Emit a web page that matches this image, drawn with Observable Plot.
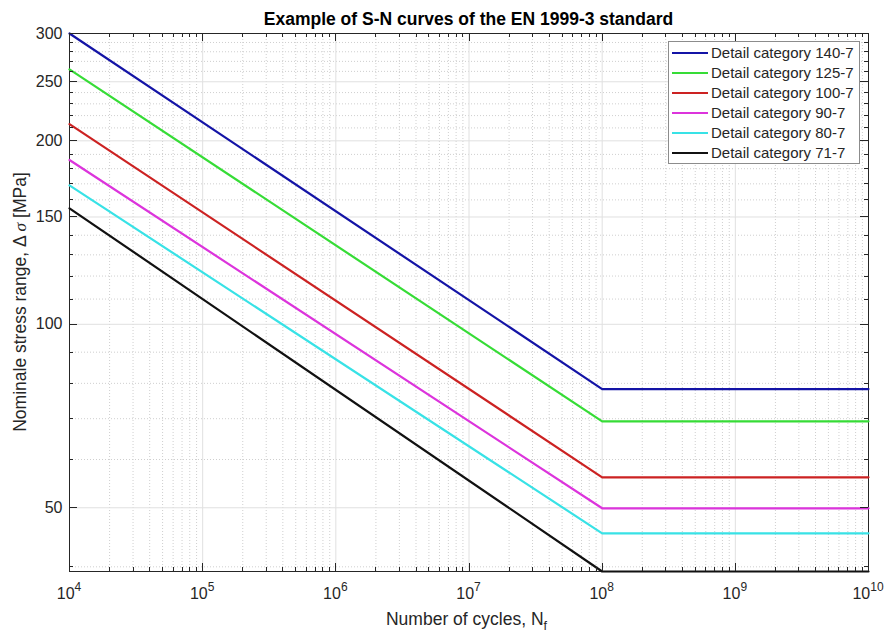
<!DOCTYPE html>
<html><head><meta charset="utf-8">
<script src="https://cdn.jsdelivr.net/npm/d3@7"></script>
<script src="https://cdn.jsdelivr.net/npm/@observablehq/plot@0.6"></script>
<style>
body{margin:0;background:#fff}
#chart{width:886px;height:632px}
</style>
</head><body><div id="chart"></div>
<script>
// ---- data ----
const categories = ["Detail category 140-7","Detail category 125-7","Detail category 100-7","Detail category 90-7","Detail category 80-7","Detail category 71-7"];
const colors = ["#1414a6","#36dc36","#cc2222","#dc34dc","#38e2e6","#111111"];
const cycles = [1e4, 1e8, 1e10];
const stress140 = [300, 78.3, 78.3];
const stress125 = [262, 69.3, 69.3];
const stress100 = [213, 56.1, 56.1];
const stress90  = [186, 49.9, 49.9];
const stress80  = [169, 45.4, 45.4];
const stress71  = [155, 39.3, 39.3];
const series = [stress140, stress125, stress100, stress90, stress80, stress71];
const xMajor = [1e4, 1e5, 1e6, 1e7, 1e8, 1e9, 1e10];
const yMajor = [50, 100, 150, 200, 250, 300];
const yMinorTicks = [40,60,70,80,90,110,120,130,140,160,170,180,190,210,220,230,240,260,270,280,290];
const xDomain = [1e4, 1e10];
const yDomain = [39.3, 300];

const rows = [];
series.forEach((s, i) => s.forEach((v, j) => rows.push({cat: categories[i], N: cycles[j], S: v})));
const xMinor = d3.scaleLog().domain(xDomain).ticks().filter(v => !xMajor.includes(v));

const W = 886, H = 632, mL = 69, mR = 18, mT = 33, mB = 61;
const axisColor = "#262626";
const font = "'Liberation Sans', Arial, Helvetica, sans-serif";

const plot = Plot.plot({
  width: W, height: H,
  marginLeft: mL, marginRight: mR, marginTop: mT, marginBottom: mB,
  x: {type: "log", domain: xDomain, axis: null},
  y: {type: "log", domain: yDomain, axis: null},
  color: {domain: categories, range: colors},
  style: {fontFamily: font, background: "#fff", overflow: "visible"},
  marks: [
    Plot.ruleX(xMinor, {stroke: "#cfcfcf", strokeDasharray: "1,2"}),
    Plot.ruleY(yMinorTicks, {stroke: "#cfcfcf", strokeDasharray: "1,2"}),
    Plot.ruleX(xMajor, {stroke: "#e0e0e0"}),
    Plot.ruleY(yMajor, {stroke: "#e0e0e0"}),
    Plot.frame({stroke: axisColor, strokeWidth: 1}),
    Plot.line(rows, {x: "N", y: "S", z: "cat", stroke: "cat", strokeWidth: 2.2}),
    Plot.text(yMajor, {y: d => d, frameAnchor: "left", dx: -7, textAnchor: "end", text: d => String(d), fontSize: 16, fill: axisColor})
  ]
});
document.getElementById("chart").appendChild(plot);

const sx = plot.scale("x"), sy = plot.scale("y");
const svg = d3.select(plot);
const x0 = mL, x1 = W - mR, y0 = mT, y1 = H - mB;

// inward ticks on all four sides
const tg = svg.append("g").attr("stroke", axisColor).attr("stroke-width", 1);
function tickX(v, len) {
  const px = Math.round(sx.apply(v)) + 0.5;
  tg.append("line").attr("x1", px).attr("x2", px).attr("y1", y1).attr("y2", y1 - len);
  tg.append("line").attr("x1", px).attr("x2", px).attr("y1", y0).attr("y2", y0 + len);
}
function tickY(v, len) {
  const py = Math.round(sy.apply(v)) + 0.5;
  tg.append("line").attr("y1", py).attr("y2", py).attr("x1", x0).attr("x2", x0 + len);
  tg.append("line").attr("y1", py).attr("y2", py).attr("x1", x1).attr("x2", x1 - len);
}
xMajor.forEach(v => tickX(v, 8));
xMinor.forEach(v => tickX(v, 4));
yMajor.forEach(v => tickY(v, 8));
yMinorTicks.forEach(v => tickY(v, 4));

// x tick labels with superscript exponents
const xl = svg.append("g").attr("font-family", font).attr("fill", axisColor).attr("text-anchor", "middle");
xMajor.forEach(v => {
  const t = xl.append("text").attr("x", sx.apply(v)).attr("y", y1 + 28).attr("font-size", 16);
  t.append("tspan").text("10");
  t.append("tspan").attr("dy", -8).attr("font-size", 12).text(String(Math.round(Math.log10(v))));
});

// title
svg.append("text").attr("x", (x0 + x1) / 2).attr("y", 25).attr("text-anchor", "middle")
  .attr("font-family", font).attr("font-weight", "bold").attr("font-size", 17.5).attr("fill", "#000")
  .text("Example of S-N curves of the EN 1999-3 standard");

// x label
const xlab = svg.append("text").attr("x", (x0 + x1) / 2 - 2).attr("y", 625).attr("text-anchor", "middle")
  .attr("font-family", font).attr("font-size", 17.5).attr("fill", axisColor);
xlab.append("tspan").text("Number of cycles, N");
xlab.append("tspan").attr("dy", 5).attr("font-size", 12.5).text("f");

// y label
const ylab = svg.append("text").attr("transform", `translate(26,${(y0 + y1) / 2}) rotate(-90)`)
  .attr("text-anchor", "middle").attr("font-family", font).attr("font-size", 17.5).attr("fill", axisColor);
ylab.append("tspan").text("Nominale stress range, \u0394 ");
ylab.append("tspan").attr("font-style", "italic").attr("font-family", "'Liberation Serif', 'DejaVu Serif', serif").text("\u03c3");
ylab.append("tspan").text(" [MPa]");

// legend
const lg = svg.append("g").attr("font-family", font).attr("text-anchor", "start");
lg.append("rect").attr("x", 668.5).attr("y", 41.5).attr("width", 191).attr("height", 122)
  .attr("fill", "#fff").attr("stroke", "#8c8c8c").attr("stroke-width", 1);
const rowsG = lg.selectAll("g.row").data(categories).join("g").attr("class", "row")
  .attr("transform", (d, i) => `translate(0,${53 + 20 * i})`);
rowsG.append("line").attr("x1", 672).attr("x2", 708).attr("y1", 0).attr("y2", 0)
  .attr("stroke", (d, i) => colors[i]).attr("stroke-width", 2.2);
rowsG.append("text").attr("x", 711).attr("y", 0).attr("dy", "0.35em").attr("font-size", 15)
  .attr("text-anchor", "start").attr("fill", axisColor).text(d => d);
</script>
</body></html>
